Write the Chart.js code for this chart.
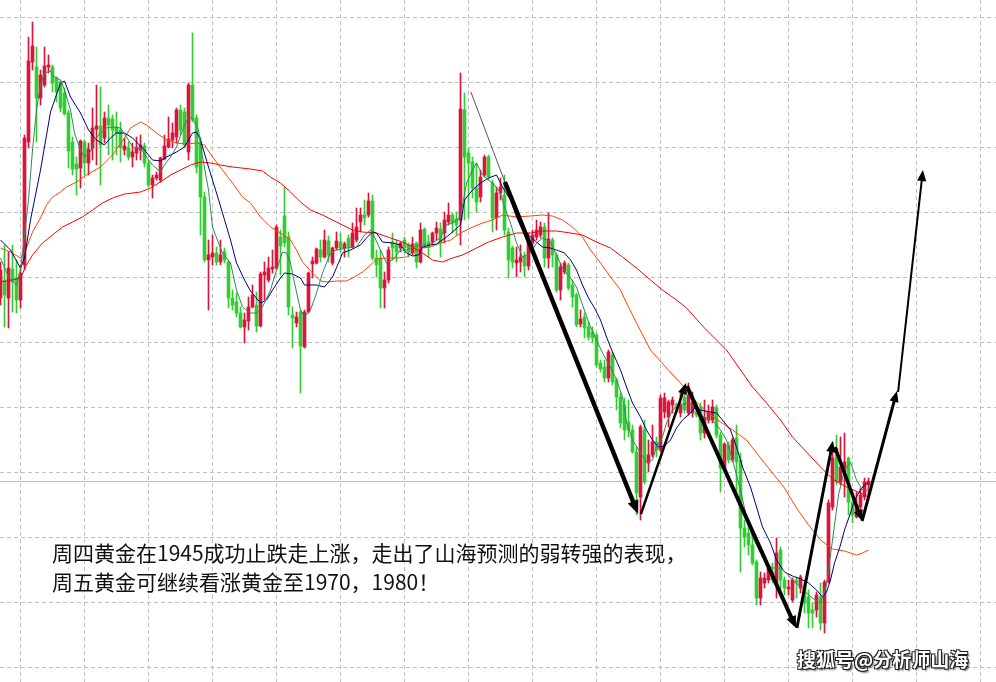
<!DOCTYPE html>
<html>
<head>
<meta charset="utf-8">
<script src="https://cdn.jsdelivr.net/npm/chart.js@4.4.1/dist/chart.umd.min.js"></script>
<style>
  html, body { margin: 0; padding: 0; background: #fff; }
  #wrap { position: relative; width: 996px; height: 682px; overflow: hidden; }
  #chart { position: absolute; left: 0; top: 0; }
  .note {
    position: absolute; left: 52px; top: 538px;
    font: 21px/29px "Noto Sans CJK SC", sans-serif; color: #111; white-space: nowrap;
  }
  .mark {
    position: absolute; left: 797px; top: 645px;
    font: bold 19px "Noto Sans CJK SC", sans-serif; color: #fff; white-space: nowrap;
    text-shadow: 1px 1px 0 #222, -1px -1px 0 #222, 1px -1px 0 #222, -1px 1px 0 #222, 2px 2px 2px rgba(0,0,0,.6);
  }
</style>
</head>
<body>
<div id="wrap">
  <canvas id="chart" width="996" height="682"></canvas>
  <div class="note">周四黄金在1945成功止跌走上涨，走出了山海预测的弱转强的表现，<br>周五黄金可继续看涨黄金至1970，1980！</div>
  <div class="mark">搜狐号@分析师山海</div>
</div>
<script>
// candle prices, one entry per bar (index 0 = leftmost)
const candleOpen = [
  1978.2,1980.0,1978.2,1981.1,1980.2,1978.0,1981.5,1993.8,2001.8,2001.3,
  1998.2,1999.5,2001.3,2001.3,2000.2,1999.8,1998.7,1996.7,1993.8,1991.6,
  1991.2,1993.8,1991.7,1993.2,1995.1,1995.4,1994.2,1996.2,1996.1,1995.3,
  1995.0,1993.0,1993.2,1992.3,1992.7,1993.0,1993.4,1991.7,1989.5,1990.2,
  1990.0,1992.1,1993.3,1994.0,1994.3,1997.0,1996.8,1992.8,1999.5,1996.2,
  1993.8,1988.3,1982.0,1982.3,1982.7,1981.8,1982.8,1981.8,1978.2,1977.8,
  1976.7,1975.3,1975.9,1977.3,1977.5,1975.4,1980.5,1980.0,1981.1,1981.2,
  1984.3,1986.4,1984.3,1976.5,1975.7,1976.8,1973.3,1976.8,1981.6,1981.7,
  1983.0,1982.3,1983.9,1981.7,1983.2,1983.8,1983.2,1984.2,1983.3,1984.0,
  1985.8,1986.5,1986.5,1987.9,1982.2,1982.2,1979.2,1980.0,1983.8,1983.5,
  1983.2,1984.0,1983.5,1982.7,1983.7,1981.8,1985.1,1983.8,1983.8,1984.7,
  1985.1,1984.7,1985.8,1986.5,1986.1,1986.0,1997.0,1992.7,1991.8,1989.2,
  1988.3,1990.5,1992.3,1989.7,1986.2,1988.7,1988.5,1984.8,1983.2,1981.7,
  1981.8,1982.4,1981.4,1983.7,1984.3,1984.5,1985.3,1982.2,1984.0,1982.5,
  1979.0,1980.8,1981.5,1979.5,1978.5,1975.6,1976.3,1975.3,1974.8,1974.5,
  1971.7,1971.3,1970.2,1972.5,1970.0,1968.3,1967.5,1965.8,1965.0,1962.8,
  1958.3,1965.0,1961.7,1962.5,1963.8,1963.0,1966.8,1966.3,1967.5,1967.5,
  1966.7,1968.3,1966.7,1966.7,1966.8,1967.3,1964.7,1966.0,1966.0,1967.2,
  1964.5,1961.2,1963.5,1962.0,1964.2,1962.0,1955.2,1954.7,1953.5,1951.8,
  1948.2,1949.7,1950.0,1950.8,1949.7,1953.0,1950.0,1949.1,1948.0,1950.0,
  1949.2,1949.5,1948.3,1947.0,1947.0,1948.3,1945.7,1949.8,1957.3,1963.2,
  1959.8,1960.8,1962.2,1957.8,1956.3,1957.3,1958.3,1959.5
];
const candleHigh = [
  1981.8,1983.5,1982.8,1983.5,1982.0,1981.5,1994.5,2004.3,2005.8,2003.3,
  2001.0,2003.3,2002.5,2001.5,2000.3,2000.0,1999.2,1997.0,1994.3,1992.3,
  1994.0,1994.0,1993.7,1997.2,1999.5,1999.3,1996.8,1997.5,1996.5,1996.8,
  1995.8,1994.2,1993.8,1993.7,1994.3,1994.5,1993.7,1992.0,1990.5,1990.8,
  1992.3,1994.5,1996.3,1995.7,1997.2,1997.5,1997.2,1999.7,2004.7,1996.5,
  1994.3,1988.8,1984.0,1984.5,1983.3,1984.0,1983.2,1982.0,1979.0,1978.7,
  1977.3,1976.7,1978.3,1979.5,1978.8,1980.8,1981.8,1982.3,1983.0,1985.5,
  1985.0,1989.3,1984.8,1977.3,1976.8,1977.0,1977.0,1980.8,1982.3,1983.2,
  1984.0,1985.0,1984.4,1983.3,1984.8,1984.7,1983.8,1984.5,1985.7,1987.2,
  1987.2,1988.0,1988.7,1988.5,1983.0,1983.0,1980.8,1983.3,1984.7,1984.0,
  1983.8,1984.3,1983.7,1984.3,1983.8,1985.7,1985.2,1984.5,1984.8,1985.8,
  1985.7,1986.8,1987.7,1986.7,1986.8,2000.7,1998.7,1993.2,1992.3,1991.7,
  1991.0,1992.5,1992.5,1990.0,1989.3,1990.2,1990.5,1985.2,1983.4,1983.3,
  1983.5,1982.8,1984.7,1985.0,1986.0,1985.8,1985.7,1986.7,1984.2,1982.7,
  1981.7,1981.9,1981.7,1980.0,1978.7,1977.0,1976.7,1975.8,1975.3,1974.7,
  1972.0,1972.0,1973.0,1972.8,1970.2,1968.7,1968.2,1968.0,1965.5,1963.3,
  1965.5,1966.0,1964.0,1965.5,1964.3,1968.5,1968.7,1968.0,1968.3,1967.7,
  1968.7,1969.5,1969.7,1968.8,1967.3,1967.7,1968.0,1967.5,1968.0,1967.5,
  1964.8,1963.7,1963.8,1964.2,1965.5,1962.7,1956.0,1956.0,1954.5,1952.0,
  1950.8,1950.7,1951.5,1951.7,1954.2,1953.3,1950.3,1950.0,1950.2,1950.3,
  1950.5,1950.0,1949.0,1947.7,1948.8,1949.7,1950.0,1958.0,1963.8,1964.5,
  1964.3,1964.7,1962.3,1958.3,1958.8,1959.2,1960.2,1960.2
];
const candleLow = [
  1977.5,1975.3,1975.2,1976.8,1976.7,1977.2,1981.0,1993.2,2001.0,1993.8,
  1997.5,1999.3,2000.7,1998.8,1997.8,1996.8,1996.5,1991.2,1990.5,1988.5,
  1989.2,1990.5,1990.5,1992.0,1991.5,1989.5,1993.7,1992.5,1992.0,1992.5,
  1991.8,1992.5,1992.0,1991.3,1992.0,1992.0,1991.3,1989.3,1988.2,1990.0,
  1989.8,1992.0,1993.2,1993.2,1993.7,1994.5,1993.2,1992.0,1995.8,1990.7,
  1984.5,1981.8,1977.0,1981.5,1981.5,1981.5,1981.7,1977.2,1977.0,1976.3,
  1975.2,1973.7,1975.0,1977.2,1974.8,1975.3,1978.0,1979.8,1980.7,1981.0,
  1980.5,1983.3,1976.5,1973.2,1975.3,1968.7,1973.2,1976.7,1980.2,1981.6,
  1981.8,1982.2,1981.8,1981.5,1983.0,1982.8,1982.3,1982.3,1983.2,1983.8,
  1984.8,1985.5,1986.3,1982.0,1980.3,1977.2,1977.2,1979.7,1982.0,1981.8,
  1982.8,1982.7,1982.3,1982.5,1981.2,1981.7,1983.2,1982.3,1983.5,1984.0,
  1982.3,1983.7,1985.5,1984.7,1984.5,1983.5,1986.0,1986.2,1988.2,1986.8,
  1987.8,1990.3,1990.0,1984.8,1985.0,1988.0,1984.5,1980.2,1981.2,1980.3,
  1980.8,1980.3,1981.0,1983.3,1984.0,1984.2,1981.3,1981.2,1981.3,1978.8,
  1978.0,1980.6,1979.0,1977.3,1975.3,1975.3,1974.2,1974.0,1973.7,1971.3,
  1970.8,1969.8,1969.8,1969.5,1967.0,1965.2,1964.0,1964.3,1962.7,1956.5,
  1956.0,1959.6,1960.8,1962.3,1962.3,1962.8,1966.2,1965.3,1966.7,1966.7,
  1966.3,1966.7,1966.5,1966.3,1966.3,1964.0,1964.2,1965.7,1965.7,1964.2,
  1958.8,1961.0,1961.7,1961.8,1958.7,1950.8,1953.3,1952.5,1951.5,1947.5,
  1947.5,1949.2,1949.7,1949.7,1948.2,1949.0,1948.5,1948.5,1947.8,1948.2,
  1948.7,1946.7,1945.2,1945.2,1946.3,1945.0,1944.7,1949.7,1957.0,1959.5,
  1959.5,1958.3,1956.5,1955.7,1956.2,1957.0,1958.0,1958.5
];
const candleClose = [
  1981.0,1978.5,1981.2,1979.8,1978.0,1980.7,1994.2,2001.9,2003.4,1998.2,
  2000.5,2001.4,2001.5,1999.7,1998.8,1997.2,1996.6,1992.9,1991.1,1991.1,
  1993.9,1991.7,1993.1,1995.2,1995.4,1993.5,1996.2,1995.5,1995.0,1994.7,
  1993.3,1993.4,1992.3,1992.8,1993.2,1993.5,1991.7,1989.5,1990.2,1990.5,
  1992.2,1993.4,1994.1,1994.7,1997.0,1995.0,1993.5,1999.5,1996.0,1991.3,
  1988.3,1982.0,1982.5,1982.7,1981.8,1982.5,1982.0,1978.2,1977.5,1976.7,
  1975.3,1976.0,1977.3,1978.5,1975.4,1980.6,1980.8,1981.2,1981.3,1985.3,
  1983.4,1983.7,1977.3,1976.2,1976.3,1973.4,1976.8,1980.7,1981.9,1983.1,
  1982.3,1984.0,1982.5,1983.2,1983.9,1983.2,1983.6,1983.3,1984.7,1985.3,
  1986.5,1986.2,1987.9,1982.2,1981.5,1979.2,1980.0,1983.0,1983.2,1982.8,
  1983.7,1983.2,1982.8,1983.6,1981.8,1985.0,1983.5,1983.3,1984.7,1985.2,
  1983.7,1986.0,1986.5,1985.7,1985.5,1997.1,1992.3,1991.7,1989.2,1987.8,
  1990.3,1992.3,1990.3,1986.2,1988.7,1989.3,1985.0,1982.0,1981.8,1982.0,
  1982.3,1981.4,1983.8,1984.5,1985.0,1985.3,1982.2,1984.1,1982.5,1979.0,
  1981.3,1981.7,1979.2,1978.3,1975.5,1976.1,1975.2,1974.3,1974.2,1971.5,
  1971.1,1970.2,1972.8,1969.8,1968.3,1965.7,1965.0,1965.0,1962.8,1958.7,
  1965.3,1959.8,1962.5,1963.8,1963.0,1968.2,1968.2,1967.8,1968.0,1967.2,
  1967.5,1967.0,1968.5,1967.8,1966.5,1964.7,1966.2,1966.8,1967.3,1964.5,
  1961.2,1963.6,1962.0,1964.0,1961.8,1955.2,1954.3,1953.5,1951.7,1948.2,
  1950.2,1950.2,1951.2,1950.0,1952.7,1950.0,1949.2,1949.3,1950.0,1949.7,
  1950.3,1947.7,1946.7,1946.7,1948.5,1945.7,1949.8,1957.7,1962.2,1959.8,
  1961.3,1961.8,1957.8,1956.5,1957.5,1958.5,1959.8,1959.9
];

// moving averages: [bar index, price]
const maFast = [
  [0,1982.2],[2,1980.3],[4,1979.5],[5,1981.0],[6,1984.5],[7,1988.0],[8,1993.0],[9,1997.0],[10,1999.5],[11,2000.7],
  [12.5,2000.9],[13.5,2000.3],[15,2000.0],[16,1999.0],[17.5,1997.0],[18.5,1994.7],[20,1993.0],[21,1992.3],[22.5,1992.8],[23.5,1994.0],
  [25,1994.7],[26.5,1995.2],[28,1995.3],[30,1995.2],[31.5,1994.3],[33,1993.3],[35,1993.2],[36.5,1992.3],[38,1991.5],[40,1990.8],
  [41,1991.5],[42.5,1992.3],[44,1993.3],[45.5,1995.0],[47,1996.3],[48,1996.2],[49.5,1995.0],[50.5,1992.3],[52,1989.0],[53,1985.3],
  [54.5,1983.7],[55.5,1982.7],[57.5,1981.7],[59,1979.0],[60.5,1977.3],[62.5,1976.7],[64,1976.7],[65.5,1977.3],[67.5,1979.0],[69,1981.0],
  [70.5,1982.8],[71.5,1982.7],[72.5,1981.7],[73.5,1979.7],[75,1977.0],[76,1976.3],[77.5,1977.0],[79,1978.7],[80.5,1980.7],[82.5,1982.7],
  [84,1983.0],[86.5,1983.2],[89,1983.3],[91,1984.5],[92.5,1985.0],[93.5,1984.3],[95,1983.0],[96.5,1981.7],[98,1982.0],[100,1983.0],
  [101.5,1983.0],[103,1983.3],[105,1983.5],[106.5,1983.5],[108,1983.7],[110,1984.2],[111.5,1985.5],[113,1985.7],[115,1986.3],[116.5,1989.7],
  [118,1991.0],[119,1991.7],[120.5,1990.5],[122,1990.0],[123.5,1989.5],[125,1988.7],[126,1987.3],[127.5,1985.7],[129,1983.7],[130.5,1982.3],
  [132.5,1982.7],[134,1983.7],[135.5,1984.2],[137.5,1983.8],[139,1982.5],[140.5,1981.2],[142.5,1980.2],[144,1979.3],[145.5,1977.5],[147.5,1975.3],
  [149,1974.0],[150.5,1972.7],[152.5,1971.3],[154,1970.0],[155.5,1968.3],[156.5,1965.8],[158,1964.0],[160,1962.7],[161.5,1961.8],[163,1962.0],
  [164,1963.3],[165.5,1964.3],[166.5,1965.7],[168,1967.0],[170,1967.5],[171.5,1967.7],[173,1967.5],[175,1966.5],[176.5,1966.2],[178,1966.0],
  [180,1965.0],[181.5,1964.0],[183,1962.0],[185,1959.0],[186.5,1956.3],[188,1954.3],[190,1952.7],[191.5,1951.7],[193,1951.2],[195,1951.2],
  [196.5,1950.7],[198,1950.0],[200,1949.3],[201.5,1948.7],[203,1948.2],[205,1947.7],[206.5,1949.5],[208,1954.0],[209.5,1958.5],[211,1961.0],
  [212.5,1961.8],[214,1960.0],[215.5,1959.0],[217,1959.0]
];
const maMid = [
  [0,1984.0],[2.5,1983.0],[5,1981.2],[6,1982.2],[7.5,1986.0],[10,1991.0],[12.5,1996.8],[15,1999.7],[16,1999.9],[17.5,1998.3],
  [20,1996.7],[22,1995.0],[24,1994.0],[26,1993.5],[27.5,1994.2],[29,1994.7],[31,1994.7],[33,1994.2],[36,1993.0],[38,1992.0],
  [40,1991.9],[41.5,1992.3],[44,1992.8],[46,1993.3],[48,1994.7],[49,1994.8],[50,1994.0],[52,1991.3],[54,1988.7],[55.5,1986.7],
  [57.5,1984.0],[59,1981.7],[61,1980.0],[62.5,1978.9],[65,1977.7],[66.5,1978.0],[68,1979.0],[70,1980.2],[71,1980.7],[73,1980.6],
  [75,1980.2],[76,1979.5],[79,1979.5],[81,1979.3],[83,1980.3],[84.5,1981.7],[85.5,1982.7],[87.5,1983.0],[90,1983.5],[91.5,1984.2],
  [93,1984.8],[94,1984.7],[95.5,1983.8],[98,1983.7],[100,1983.5],[101.5,1982.7],[103,1982.4],[104.5,1982.5],[105.5,1983.3],[107.5,1983.5],
  [109,1983.6],[111.5,1984.3],[113,1984.8],[115,1985.5],[116,1988.0],[118,1989.0],[120,1989.7],[122,1990.2],[124,1990.5],[125.5,1989.3],
  [127.5,1988.0],[129,1986.3],[130.5,1985.0],[132.5,1984.3],[134,1983.8],[135.5,1983.3],[137.5,1983.2],[139,1983.0],[141,1982.7],[142.5,1982.0],
  [144,1981.0],[145.5,1979.5],[147,1978.2],[148.5,1977.2],[150,1976.0],[151.5,1974.3],[153,1972.8],[155,1971.0],[156.5,1969.3],[158,1967.7],
  [160,1966.3],[161.5,1965.0],[163,1964.0],[164.5,1963.3],[166,1963.4],[167.5,1964.0],[169,1965.2],[170.5,1966.0],[172.5,1966.7],[173.5,1967.2],
  [175,1967.0],[177.5,1966.8],[179,1966.7],[180.5,1966.0],[182.5,1965.0],[184,1963.3],[185.5,1961.3],[187.5,1959.3],[189,1957.3],[190.5,1955.3],
  [192.5,1953.7],[194,1952.0],[196,1950.8],[198,1950.4],[200,1950.1],[202,1949.7],[204,1949.0],[205.5,1948.3],[206.5,1948.8],[207.5,1950.0],
  [208.5,1951.7],[210,1953.5],[211,1955.0],[212.5,1956.7],[213.5,1958.0],[215,1959.0],[216,1959.5],[217,1959.8]
];
const maSlow = [
  [0,1983.2],[2.5,1982.8],[5,1982.2],[6.5,1983.2],[8,1984.8],[10,1986.2],[11.5,1987.5],[13,1988.3],[15,1988.8],[16.5,1989.3],
  [19,1989.8],[21.5,1990.5],[25,1991.3],[28,1992.5],[31,1994.2],[32.5,1995.2],[35,1995.8],[36.5,1995.5],[39,1994.7],[41.5,1994.0],
  [44,1993.7],[46.5,1993.6],[49,1993.7],[51,1993.5],[53,1992.3],[55.5,1991.0],[58,1989.7],[60.5,1988.3],[62.5,1987.7],[65,1986.3],
  [67.5,1985.3],[70,1984.7],[72.5,1984.0],[74,1983.0],[75.5,1981.8],[78,1980.7],[80,1979.9],[82,1979.8],[84,1979.9],[86.5,1979.9],
  [88,1980.2],[90.5,1980.8],[92.5,1981.5],[94,1982.1],[96.5,1982.2],[99,1982.2],[101.5,1982.3],[103,1982.8],[105,1983.2],[107.5,1983.3],
  [110,1983.7],[112.5,1984.0],[115,1984.7],[117.5,1985.2],[120.5,1985.7],[123,1986.0],[125.5,1986.5],[129,1986.3],[132.5,1986.4],[135.5,1986.5],
  [138,1986.4],[140.5,1986.0],[143,1985.3],[145.5,1984.3],[147.5,1983.0],[150,1981.7],[152.5,1980.3],[155,1979.0],[156.5,1977.7],[159.5,1975.3],
  [162.5,1973.0],[166.5,1971.2],[170,1969.7],[173,1968.2],[176.5,1966.8],[180,1965.8],[183,1965.0],[186.5,1964.0],[190,1962.2],[193,1960.7],
  [196,1959.2],[199,1957.2],[202,1955.5],[205,1954.0],[208,1953.1],[211,1952.9],[214,1952.5],[215.5,1952.7],[217,1953.0]
];
const maLong = [
  [0,1979.8],[3,1980.0],[5,1980.2],[6.5,1981.5],[8,1982.5],[10.5,1983.7],[13,1984.5],[15.5,1985.3],[18,1985.8],[20.5,1986.3],
  [23,1987.0],[25.5,1987.7],[28,1988.2],[31,1988.6],[35,1988.8],[37.5,1989.2],[40,1989.8],[42.5,1990.5],[45,1991.0],[47.5,1991.5],
  [50,1991.8],[52.5,1991.7],[55,1991.5],[58,1991.3],[62.5,1991.1],[65.5,1990.9],[67.5,1990.3],[70,1989.7],[72.5,1988.8],[75,1987.8],
  [77.5,1987.0],[80.5,1986.5],[83,1986.0],[85.5,1985.5],[88,1985.0],[90.5,1984.8],[94,1984.7],[97.5,1984.2],[100.5,1983.8],[103,1983.3],
  [105.5,1982.7],[108,1982.0],[110.5,1981.8],[113,1982.2],[115.5,1982.5],[119,1983.2],[122,1983.8],[125.5,1984.3],[129,1984.7],[132.5,1984.7],
  [135.5,1984.9],[139,1984.9],[142.5,1984.7],[145.5,1984.5],[149,1983.8],[152.5,1983.2],[155.5,1982.3],[159,1981.2],[162.5,1980.0],[165.5,1979.0],
  [169,1978.0],[171.5,1977.2],[176,1975.2],[181.5,1973.0],[185,1971.0],[188,1969.3],[191.5,1967.7],[195,1966.0],[198,1964.3],[201.5,1962.8],
  [205,1961.3],[208,1960.1],[211.5,1959.3],[215,1958.7],[217,1958.3]
];

// hand-drawn trend arrows: [fromIndex, fromPrice, toIndex, toPrice]
const trendArrows = [
  [117.6,1998.8,126.1,1989.8],
  [126.1,1989.8,159.4,1956.6],
  [160.1,1956.6,171.4,1969.7],
  [171.6,1969.4,198.9,1945.2],
  [199.1,1945.2,208.1,1963.9],
  [208.6,1963.3,215.4,1955.9],
  [215.4,1955.9,224.1,1968.9],
  [224.4,1968.8,230.6,1991.0]
];
const arrowWidths = [1, 4.5, 2.5, 4, 3, 3.5, 3, 2];

const lastPrice = 1959.9;
const gridPrices = [2006.2,1999.7,1993.2,1986.7,1980.2,1973.7,1967.2,1960.7,1954.2,1947.7,1941.2];
const gridBars = [5,21,37,53,69,85,101,117,133,149,165,181,197,213,229,245];

const upColor = '#dc143c';
const downColor = '#32cd32';
const candleColors = candleOpen.map((o, i) => candleClose[i] >= o ? upColor : downColor);

const maLine = (pts, color) => ({
  type: 'line',
  data: pts.map(p => ({ x: p[0], y: p[1] })),
  borderColor: color,
  borderWidth: 1,
  pointRadius: 0,
  tension: 0,
  order: 1
});

function drawArrow(ctx, x1, y1, x2, y2, w, head) {
  const ang = Math.atan2(y2 - y1, x2 - x1);
  const hl = head ? Math.max(11, w * 3) : 0;
  const hw = hl * 0.42;
  const ex = x2 - Math.cos(ang) * hl * 0.7;
  const ey = y2 - Math.sin(ang) * hl * 0.7;
  ctx.beginPath();
  ctx.moveTo(x1, y1);
  ctx.lineTo(head ? ex : x2, head ? ey : y2);
  ctx.lineWidth = w;
  ctx.stroke();
  if (head) {
    const bx = x2 - Math.cos(ang) * hl, by = y2 - Math.sin(ang) * hl;
    ctx.beginPath();
    ctx.moveTo(x2, y2);
    ctx.lineTo(bx + Math.sin(ang) * hw, by - Math.cos(ang) * hw);
    ctx.lineTo(bx - Math.sin(ang) * hw, by + Math.cos(ang) * hw);
    ctx.closePath();
    ctx.fill();
  }
}

const overlay = {
  id: 'overlay',
  beforeDatasetsDraw(chart) {
    const { ctx, chartArea, scales } = chart;
    const y = Math.round(scales.y.getPixelForValue(lastPrice)) + 0.5;
    ctx.save();
    ctx.strokeStyle = '#c0c0c0';
    ctx.lineWidth = 1;
    ctx.beginPath();
    ctx.moveTo(chartArea.left, y);
    ctx.lineTo(chartArea.right, y);
    ctx.stroke();
    ctx.restore();
  },
  afterDatasetsDraw(chart) {
    const { ctx, scales } = chart;
    ctx.save();
    trendArrows.forEach((a, k) => {
      const x1 = scales.x.getPixelForValue(a[0]), y1 = scales.y.getPixelForValue(a[1]);
      const x2 = scales.x.getPixelForValue(a[2]), y2 = scales.y.getPixelForValue(a[3]);
      ctx.strokeStyle = k === 0 ? '#555' : '#000';
      ctx.fillStyle = '#000';
      drawArrow(ctx, x1, y1, x2, y2, arrowWidths[k], k > 0);
    });
    ctx.restore();
  }
};

const gridStyle = { color: '#c0c0c0', drawTicks: false, offset: false };
const gridBorder = { display: false, dash: [4, 3] };

new Chart(document.getElementById('chart'), {
  type: 'bar',
  data: {
    datasets: [
      {
        data: candleOpen.map((o, i) => ({ x: i, y: [candleLow[i], candleHigh[i]] })),
        backgroundColor: candleColors,
        barThickness: 1,
        grouped: false,
        order: 3
      },
      {
        data: candleOpen.map((o, i) => ({ x: i, y: [o, candleClose[i]] })),
        backgroundColor: candleColors,
        barThickness: 3,
        minBarLength: 1,
        grouped: false,
        order: 2
      },
      maLine(maFast, '#2e8b57'),
      maLine(maMid, '#000080'),
      maLine(maSlow, '#ff4500'),
      maLine(maLong, '#ff0000')
    ]
  },
  options: {
    responsive: false,
    animation: false,
    devicePixelRatio: 1,
    layout: { padding: 0 },
    plugins: { legend: { display: false }, tooltip: { enabled: false } },
    scales: {
      x: {
        type: 'linear',
        min: -0.125,
        max: 248.875,
        offset: false,
        grid: gridStyle,
        border: gridBorder,
        ticks: { display: false },
        afterBuildTicks: axis => { axis.ticks = gridBars.map(v => ({ value: v })); }
      },
      y: {
        type: 'linear',
        min: 1939.8,
        max: 2008,
        grid: gridStyle,
        border: gridBorder,
        ticks: { display: false },
        afterBuildTicks: axis => { axis.ticks = gridPrices.map(v => ({ value: v })); }
      }
    }
  },
  plugins: [overlay]
});
</script>
</body>
</html>
